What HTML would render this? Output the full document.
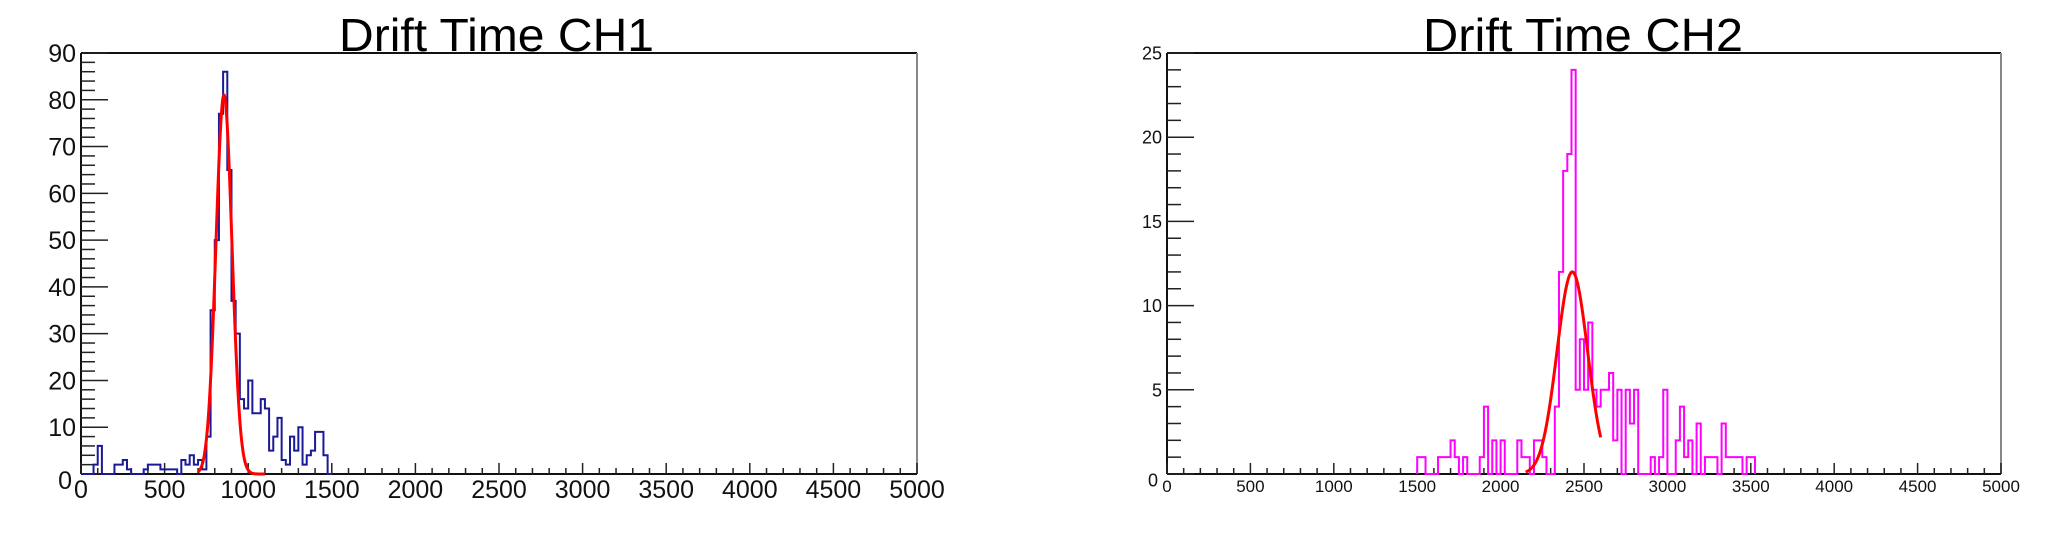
<!DOCTYPE html>
<html><head><meta charset="utf-8"><style>
html,body{margin:0;padding:0;background:#fff;}
svg{display:block;font-family:"Liberation Sans",sans-serif;}
</style></head><body>
<svg id="c" width="2064" height="534" viewBox="0 0 2064 534"></svg>
<script>
// ---- data ----
const binWidth = 25;
const ch1Start = 0;
const ch1Counts = [0,0,0,2,6,0,0,0,2,2,3,1,0,0,0,1,2,2,2,1,1,1,1,0,3,2,4,2,3,1,8,35,50,77,86,65,37,30,16,14,20,13,13,16,14,5,8,12,3,2,8,5,10,2,4,5,9,9,4,0];
const ch2Start = 1500;
const ch2Counts = [1,1,0,0,0,1,1,1,2,1,0,1,0,0,0,1,4,0,2,0,2,0,0,0,2,1,1,0,2,2,1,0,0,4,12,18,19,24,5,8,5,9,5,4,5,5,6,2,5,0,5,3,5,0,0,0,1,0,1,5,0,0,2,4,1,2,0,3,0,1,1,1,0,3,1,1,1,1,0,1,1];
const fit1 = {amp:81, mean:855, sigma:48, from:700, to:1100};
const fit2 = {amp:12, mean:2430, sigma:92, from:2150, to:2600};
const xTicks = [0,500,1000,1500,2000,2500,3000,3500,4000,4500,5000];
const yTicks1 = [0,10,20,30,40,50,60,70,80,90];
const yTicks2 = [0,5,10,15,20,25];

const NS="http://www.w3.org/2000/svg";
const svg=document.getElementById('c');
function mk(tag,attrs,parent){const e=document.createElementNS(NS,tag);for(const k in attrs)e.setAttribute(k,attrs[k]);(parent||svg).appendChild(e);return e;}

function panel(cfg){
  const g=mk('g',{});
  
  
  const {x0,x1,y0,y1,ymax}=cfg;
  const sx=v=>x0+(v/5000)*(x1-x0);
  const sy=v=>y1-(v/ymax)*(y1-y0);
  // frame
  const fr=mk('line',{x1:x0,y1:y0,x2:x1,y2:y0,stroke:'#111','stroke-width':2},g);
  
  
  const rb=mk('line',{x1:x1,y1:y0,x2:x1,y2:y1,stroke:'#888','stroke-width':2},g);
  
  
  const xa=mk('line',{x1:x0,y1:y1,x2:x1,y2:y1,stroke:'#111','stroke-width':2},g);
  
  
  const ya=mk('line',{x1:x0,y1:y0,x2:x0,y2:y1,stroke:'#111','stroke-width':2},g);
  
  
  // x ticks
  for(let v=0;v<=5000;v+=100){
    const major=v%500===0;
    mk('line',{x1:sx(v),y1:y1,x2:sx(v),y2:y1-(major?11:6),stroke:'#222','stroke-width':1.5},g);
  }
  xTicks.forEach(v=>{
    const t=mk('text',{x:sx(v),y:cfg.xLabY,'font-size':cfg.xFs,'text-anchor':'middle',fill:'#111'},g);
    t.textContent=v;
    
    
  });
  // y ticks
  for(let v=0;v<=ymax+1e-9;v+=cfg.yMinor){
    const major=Math.abs(v/cfg.yMajor-Math.round(v/cfg.yMajor))<1e-6;
    mk('line',{x1:x0,y1:sy(v),x2:x0+(major?27:14),y2:sy(v),stroke:'#222','stroke-width':1.5},g);
  }
  cfg.yTicks.forEach(v=>{
    const t=mk('text',{x:cfg.yLabX-(v===0?4:0),y:sy(v)+cfg.yFs*0.36+(v===0?6:0),'font-size':cfg.yFs,'text-anchor':'end',fill:'#111'},g);
    t.textContent=v;
    
    
  });
  // histogram
  let d='M'+sx(cfg.start)+','+sy(0);
  cfg.counts.forEach((c,i)=>{
    const a=cfg.start+i*binWidth,b=a+binWidth;
    d+=' L'+sx(a)+','+sy(c)+' L'+sx(b)+','+sy(c);
  });
  d+=' L'+sx(cfg.start+cfg.counts.length*binWidth)+','+sy(0);
  const h=mk('path',{d:d,fill:'none',stroke:cfg.color,'stroke-width':2},g);
  
  
  // fit
  const f=cfg.fit;let fd='';
  for(let v=f.from;v<=f.to;v+=2){
    const y=f.amp*Math.exp(-((v-f.mean)**2)/(2*f.sigma*f.sigma));
    fd+=(fd?' L':'M')+sx(v)+','+sy(y);
  }
  const fp=mk('path',{d:fd,fill:'none',stroke:'#ff0000','stroke-width':3},g);
  
  
  // title
  const tt=mk('text',{x:cfg.titleX,y:51,'font-size':46,textLength:cfg.titleW,lengthAdjust:'spacingAndGlyphs',fill:'#000'},g);
  tt.textContent=cfg.title;
  
  
}

panel({name:'drift-time-ch1',x0:81,x1:917,y0:53,y1:474,ymax:90,yMajor:10,yMinor:2,yTicks:yTicks1,
  counts:ch1Counts,start:ch1Start,color:'#1a1a99',fit:fit1,xLabY:498,xFs:25,yLabX:76,yFs:25,
  title:'Drift Time CH1',titleX:339,titleW:315});
panel({name:'drift-time-ch2',x0:1167,x1:2001,y0:53,y1:474,ymax:25,yMajor:5,yMinor:1,yTicks:yTicks2,
  counts:ch2Counts,start:ch2Start,color:'#ff00ff',fit:fit2,xLabY:492,xFs:17,yLabX:1162,yFs:18,
  title:'Drift Time CH2',titleX:1423,titleW:320});
</script>
</body></html>
